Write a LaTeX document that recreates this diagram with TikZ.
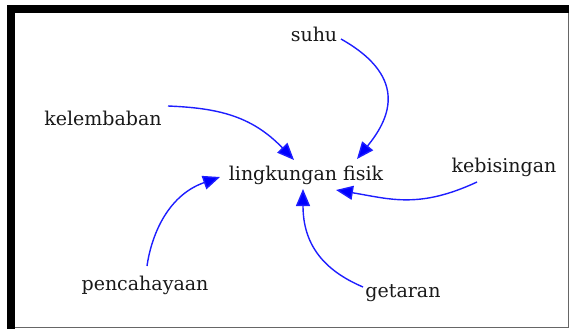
\documentclass[tikz,border=0pt]{standalone}
\usepackage{fontspec}
\setmainfont{DejaVu Serif}
\usetikzlibrary{arrows.meta}
\definecolor{linkblue}{RGB}{30,30,255}
\tikzset{
  lbl/.style={inner sep=0pt, text=black!90, font=\fontsize{19}{22}\selectfont},
  link/.style={draw=linkblue, line width=1.4pt,
    -{Triangle[length=17pt,width=14pt,fill=blue]}},
}
\begin{document}
\begin{tikzpicture}[x=1pt,y=-1pt]
  \useasboundingbox (0,0) rectangle (569,329);
  % frame
  \fill[black] (7,5) rectangle (569,13);
  \fill[black] (7,5) rectangle (15,329);
  \draw[black!60, line width=1pt] (15,327.5) -- (568.5,327.5) -- (568.5,13);

  % labels
  \node[lbl] (lf)   at (306,175) {lingkungan fisik};
  \node[lbl] (suhu) at (314,34)  {suhu};
  \node[lbl] (kel)  at (103,118) {kelembaban};
  \node[lbl] (keb)  at (504,167) {kebisingan};
  \node[lbl] (pen)  at (145,285) {pencahayaan};
  \node[lbl] (get)  at (403,293) {getaran};

  % influences
  \draw[link] ([shift={(27,5)}]suhu.center)
    .. controls (412,79) and (387,122) .. ([shift={(51,-16)}]lf.center);
  \draw[link] ([shift={(65,-12)}]kel.center)
    .. controls (216,108) and (251,115) .. ([shift={(-12,-15)}]lf.center);
  \draw[link] ([shift={(-27,15)}]keb.center)
    .. controls (419,209) and (390,199) .. ([shift={(30,15)}]lf.center);
  \draw[link] ([shift={(2,-19)}]pen.center)
    .. controls (151,238) and (166,196) .. ([shift={(-86,2)}]lf.center);
  \draw[link] ([shift={(-40,-6)}]get.center)
    .. controls (323,270) and (303,244) .. ([shift={(-3,14)}]lf.center);
\end{tikzpicture}
\end{document}
